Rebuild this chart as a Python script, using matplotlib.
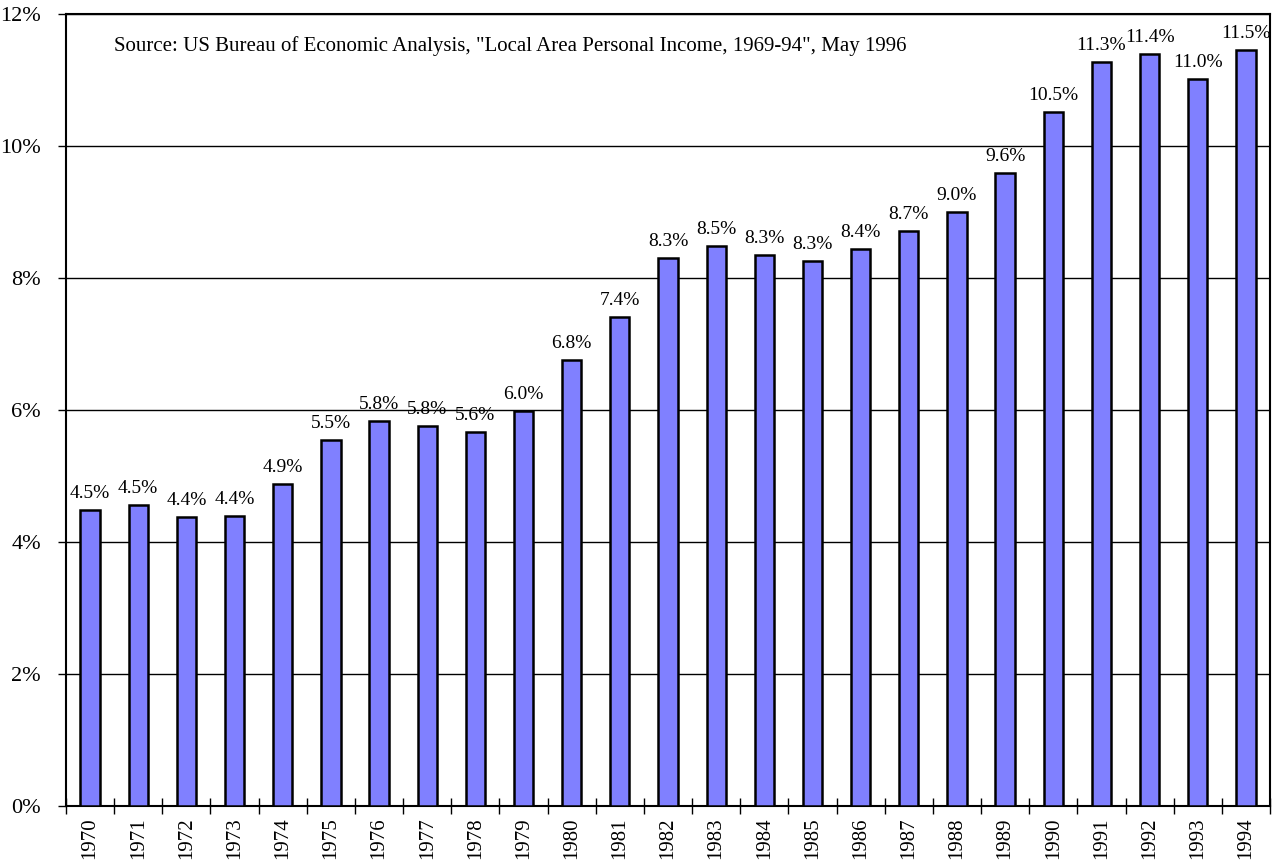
import numpy as np
import matplotlib.pyplot as plt

years = [str(y) for y in range(1970, 1995)]
values = [4.48, 4.56, 4.38, 4.39, 4.88, 5.55, 5.83, 5.76, 5.67, 5.98,
          6.76, 7.41, 8.30, 8.48, 8.35, 8.26, 8.44, 8.71, 9.00, 9.59,
          10.52, 11.27, 11.39, 11.02, 11.45]
labels = ['4.5%', '4.5%', '4.4%', '4.4%', '4.9%', '5.5%', '5.8%', '5.8%', '5.6%', '6.0%',
          '6.8%', '7.4%', '8.3%', '8.5%', '8.3%', '8.3%', '8.4%', '8.7%', '9.0%', '9.6%',
          '10.5%', '11.3%', '11.4%', '11.0%', '11.5%']

plt.rcParams['font.family'] = ['Liberation Serif', 'DejaVu Serif']

fig = plt.figure(figsize=(12.74, 8.63), dpi=100)
ax = fig.add_axes([66/1274, 1 - 806/863, (1270-66)/1274, (806-14)/863])

x = np.arange(len(years))
ax.bar(x, values, width=0.4, color='#8080ff', edgecolor='black', linewidth=1.8, zorder=3)
for xi, v, lab in zip(x, values, labels):
    ax.text(xi, v + 0.12, lab, ha='center', va='bottom', fontsize=14, zorder=4)

ax.set_xlim(-0.5, len(years) - 0.5)
ax.set_ylim(0, 12)
ax.set_yticks(range(0, 13, 2))
ax.set_yticklabels(['%d%%' % t for t in range(0, 13, 2)], fontsize=16)
ax.set_xticks(x)
ax.set_xticklabels(years, rotation=90, fontsize=15)
ax.set_xticks(np.arange(-0.5, len(years)), minor=True)
ax.tick_params(axis='x', which='major', length=0, pad=8)
ax.tick_params(axis='x', which='minor', length=12, direction='inout', width=1)
ax.tick_params(axis='y', length=6, width=1, direction='out', pad=12)
ax.yaxis.grid(True, color='black', linewidth=1, zorder=0)
for s in ax.spines.values():
    s.set_linewidth(1.5)

ax.text(0.5, 11.52, 'Source: US Bureau of Economic Analysis, "Local Area Personal Income, 1969-94", May 1996',
        ha='left', va='center', fontsize=15)

fig.savefig('out.png', dpi=100)
